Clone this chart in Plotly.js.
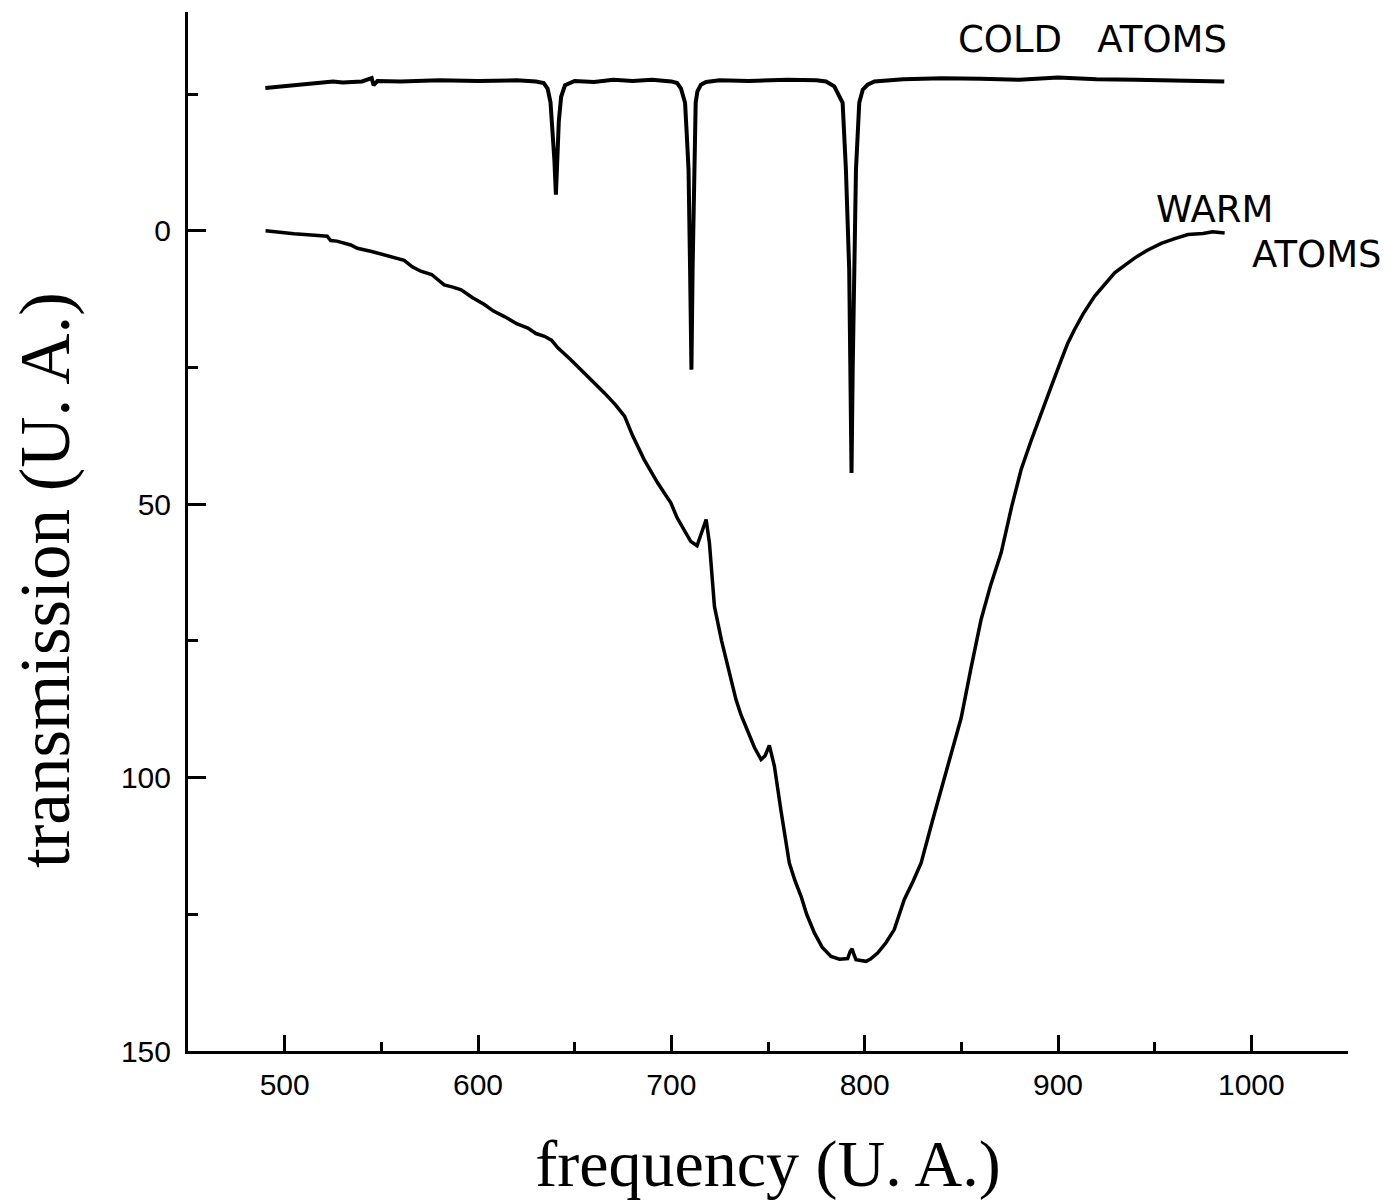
<!DOCTYPE html>
<html>
<head>
<meta charset="utf-8">
<script src="https://cdn.plot.ly/plotly-3.0.1.min.js"></script>
<style>html,body{margin:0;padding:0;background:#fff;}#chart{width:1388px;height:1204px;}</style>
</head>
<body>
<div id="chart"></div>
<script>
// Cold atoms trace (frequency U.A., transmission U.A.)
const coldFreq = [490,500,510,520,525,530,540,545,546,548,560,580,600,620,630,634,636,637.5,638.5,639.5,640.3,641,641.8,643,645,650,660,670,680,690,700,703,705,706.2,707.1,708,708.9,709.7,710.4,711,711.7,712.6,713.5,715.3,718,725,740,760,775,780,784.3,786.5,788.6,790.3,792.0,792.6,793.2,793.8,794.6,795.5,797.2,799,801.5,805,820,840,860,880,900,920,940,960,975,986];
const coldTrans = [-26.1,-26.4,-26.7,-27.0,-27.3,-27.1,-27.3,-27.9,-26.6,-27.4,-27.3,-27.5,-27.4,-27.5,-27.3,-27.0,-26.0,-23.5,-19,-13,-6.6,-13,-20,-24.5,-26.6,-27.4,-27.2,-27.6,-27.4,-27.6,-27.3,-27.0,-26.0,-24.5,-23.4,-17.5,-11.2,7.1,25.4,7,-11.2,-23.4,-25.5,-26.7,-27.2,-27.5,-27.4,-27.6,-27.5,-27.3,-26.4,-25,-23.4,-11.2,7.1,25.4,44.3,25.4,7.1,-11.2,-23.4,-25.8,-26.7,-27.3,-27.7,-27.9,-27.8,-27.6,-28.0,-27.7,-27.6,-27.5,-27.4,-27.3];

// Warm atoms trace
const warmFreq = [490.1,497,504.8,512,518.6,522,523.8,527,534.2,537.6,545,551.4,556,561.8,566,570.4,576,582.5,587,591.3,597,603.3,608,613.7,620,625.8,630,634.4,638,641.3,648,655.1,660,665.5,671,675.8,680,686,692.9,699.8,703,706.7,710,713.3,716,718.0,719.7,722.3,726,730,733.4,736,739.3,743,746.4,748.5,750.7,753.3,756.7,759,761.0,764,767.1,770,774.0,778,782.6,787,791.2,792.5,793.5,794.5,795.5,800.7,803,806.7,811,815.3,820.5,825,829.2,835,840,845,849.9,855,860.2,865,870.6,876,880.9,886,891.3,897,901.7,905,908.5,913,918.9,924,929.3,935,939.6,946,953.4,960,967.2,975,980,986.2];
const warmTrans = [0,0.3,0.55,0.75,0.9,1.0,1.8,1.9,2.6,3.2,3.8,4.4,4.7,5.4,6.6,7.4,8.0,9.9,10.3,10.8,12.2,13.5,14.7,15.7,17.0,17.8,18.8,19.3,20.0,21.4,23.6,26.0,27.8,29.7,31.8,33.9,37.5,41.9,46.1,49.8,52.5,54.7,56.8,57.6,55,52.8,57.1,68.7,75,80.5,85.7,88.5,91.2,94.5,96.7,96.0,94.1,97.9,106,111,115.6,118.9,121.7,125,128.4,131,132.7,133.2,133.1,131.8,131.3,132.4,133.3,133.6,133.2,132.1,130.2,127.8,122.3,119,115.6,108,101.5,95,89.1,80,71.1,65,58.9,50.5,43.7,38.5,33.3,28,23.6,20.6,18.1,15.2,12.0,9.8,7.7,6.2,5.0,3.6,2.3,1.5,0.7,0.5,0.2,0.4];

const yTickVals = [0, 50, 100, 150];
const xTickVals = [500, 600, 700, 800, 900, 1000];

const labels = [
  {text: 'COLD   ATOMS', x: 918, y: -34.9},
  {text: 'WARM', x: 981, y: -3.8},
  {text: 'ATOMS', x: 1034, y: 4.4}
];

const traces = [
  {x: coldFreq, y: coldTrans, mode: 'lines', line: {color: '#000', width: 4}, hoverinfo: 'skip'},
  {x: warmFreq, y: warmTrans, mode: 'lines', line: {color: '#000', width: 3.5}, hoverinfo: 'skip'}
];

const layout = {
  width: 1388, height: 1204,
  margin: {l: 188, r: 40, t: 12, b: 153},
  paper_bgcolor: '#fff', plot_bgcolor: '#fff',
  showlegend: false,
  font: {family: 'Liberation Sans, Arial, sans-serif', color: '#000', size: 30},
  xaxis: {
    range: [450, 1050], showgrid: false, zeroline: false,
    showline: true, linecolor: '#000', linewidth: 3,
    ticks: 'inside', ticklen: 16, tickwidth: 3, tickcolor: '#000',
    tickvals: xTickVals, ticktext: xTickVals.map(String),
    minor: {dtick: 50, tick0: 450, ticks: 'inside', ticklen: 9, tickwidth: 3, tickcolor: '#000', showgrid: false},
    tickfont: {family: 'Liberation Sans, Arial, sans-serif', size: 30, color: '#000'},
    ticklabelstandoff: 5,
    title: {text: 'frequency (U. A.)', font: {family: 'Liberation Serif, Times New Roman, serif', size: 66, color: '#000'}, standoff: 40}
  },
  yaxis: {
    range: [150, -40], showgrid: false, zeroline: false,
    showline: true, linecolor: '#000', linewidth: 3,
    ticks: 'inside', ticklen: 18, tickwidth: 3, tickcolor: '#000',
    tickvals: yTickVals, ticktext: yTickVals.map(String),
    minor: {dtick: 25, tick0: 0, ticks: 'inside', ticklen: 10, tickwidth: 3, tickcolor: '#000', showgrid: false},
    tickfont: {family: 'Liberation Sans, Arial, sans-serif', size: 30, color: '#000'},
    ticklabelstandoff: 8
  },
  annotations: labels.map(l => ({
    text: l.text, x: l.x, y: l.y, xref: 'x', yref: 'y', showarrow: false,
    font: {family: 'DejaVu Sans, sans-serif', size: 37, color: '#000'}
  })).concat([{
    text: 'transmission (U. A.)', xref: 'paper', yref: 'paper',
    x: (45 - 188) / 1160, y: (1051 - 580) / 1039, xanchor: 'center', yanchor: 'middle',
    textangle: -90, showarrow: false,
    font: {family: 'Liberation Serif, Times New Roman, serif', size: 71, color: '#000'}
  }])
};

Plotly.newPlot('chart', traces, layout, {displayModeBar: false, staticPlot: true});
</script>
</body>
</html>
